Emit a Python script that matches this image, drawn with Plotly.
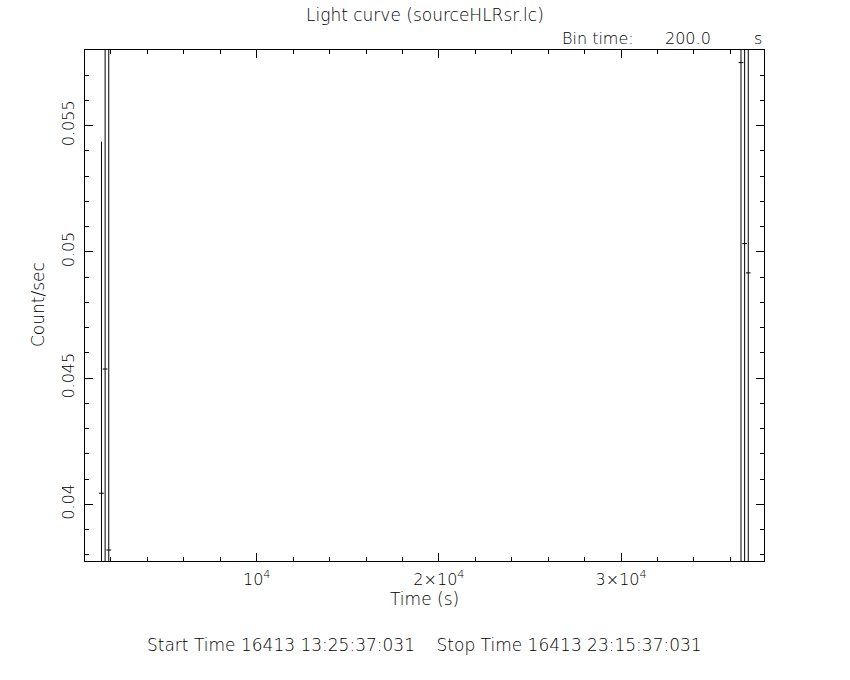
import plotly.graph_objects as go

# ---- data ----
time_s = [1480, 1680, 1880, 36580, 36780, 36980]
rate = [0.04044, 0.04536, 0.03819, 0.05750, 0.05033, 0.04917]
rate_err = [0.01393, 0.0210, 0.0210, 0.0210, 0.0210, 0.0210]
half_bin = [130, 130, 130, 130, 130, 130]

x_tick_vals = [10000, 20000, 30000]
x_tick_text = ["10<sup>4</sup>", "2×10<sup>4</sup>", "3×10<sup>4</sup>"]
y_tick_vals = [0.04, 0.045, 0.05, 0.055]
y_tick_text = ["0.04", "0.045", "0.05", "0.055"]

title_text = "Light curve (sourceHLRsr.lc)"
bin_label = "Bin time:"
bin_value = "200.0"
bin_unit = "s"
x_title = "Time (s)"
y_title = "Count/sec"
footer = "Start Time 16413 13:25:37:031    Stop Time 16413 23:15:37:031"

FONT = "DejaVu Sans"
WEIGHT = 200

fig = go.Figure()
fig.add_trace(go.Scatter(
    x=time_s, y=rate, mode="markers",
    marker=dict(size=1, color="rgba(0,0,0,0)"),
    error_y=dict(type="data", array=rate_err, visible=True, color="black", thickness=1, width=0),
    error_x=dict(type="data", array=half_bin, visible=True, color="black", thickness=1, width=0),
    showlegend=False, hoverinfo="skip",
))

axis_common = dict(
    showline=True, linecolor="black", linewidth=1, mirror="allticks",
    ticks="inside", tickcolor="black", tickwidth=1, ticklen=8,
    showgrid=False, zeroline=False,
    tickfont=dict(family=FONT, size=16, color="black", weight=WEIGHT),
)

fig.update_xaxes(
    range=[576, 37843], tickmode="array", tickvals=x_tick_vals, ticktext=x_tick_text,
    ticklabelstandoff=4,
    minor=dict(ticks="inside", ticklen=4, tick0=0, dtick=2000, tickcolor="black", tickwidth=1, showgrid=False),
    **axis_common,
)
fig.update_yaxes(
    range=[0.037754, 0.05800], tickmode="array", tickvals=y_tick_vals, ticktext=y_tick_text,
    tickangle=-90, ticklabelstandoff=4,
    minor=dict(ticks="inside", ticklen=4, tick0=0, dtick=0.001, tickcolor="black", tickwidth=1, showgrid=False),
    **axis_common,
)

W, H = 850, 680
L, R, T, B = 85, 764, 50, 561
pw, ph = R - L, B - T

def px(xp):
    return (xp - L) / pw

def py(yp):
    return (B - yp) / ph

def ann(text, x, y, size, xanchor="center", angle=0):
    return dict(text=text, x=px(x), y=py(y), xanchor=xanchor, yanchor="middle",
                xref="paper", yref="paper", showarrow=False, textangle=angle,
                font=dict(family=FONT, size=size, color="black", weight=WEIGHT))

annotations = [
    ann(title_text, 425, 15, 17),
    ann(bin_label, 560, 38, 16, xanchor="left"),
    ann(bin_value, 688, 38, 16),
    ann(bin_unit, 758, 38, 16),
    ann(x_title, 424, 599, 17),
    ann(y_title, 38, 305, 17, angle=-90),
    ann(footer, 424, 645, 17),
]

fig.update_layout(
    width=W, height=H,
    margin=dict(l=L, r=W - R, t=T, b=H - B, pad=0, autoexpand=False),
    paper_bgcolor="white", plot_bgcolor="white",
    annotations=annotations,
    font=dict(family=FONT, size=16, color="black", weight=WEIGHT),
)

fig.write_html("out.html", config={"displayModeBar": False},
               post_script="document.body.style.margin='0px';document.body.style.padding='0px';")
